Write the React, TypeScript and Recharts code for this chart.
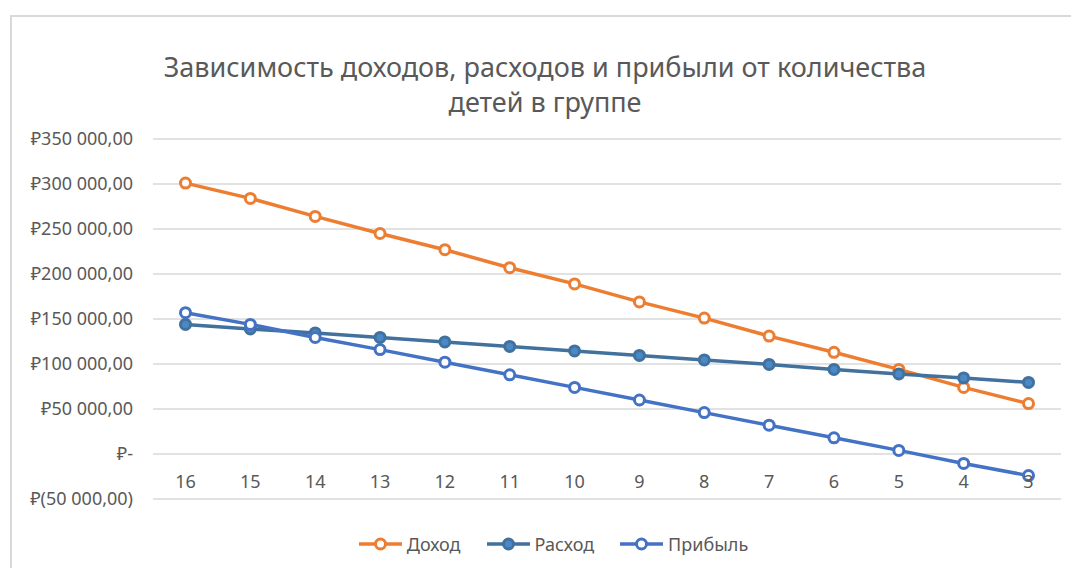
import { LineChart, Line, XAxis, YAxis, CartesianGrid, Legend } from 'recharts'

const groupSizes = ['16', '15', '14', '13', '12', '11', '10', '9', '8', '7', '6', '5', '4', '3']
const income = [301000, 284000, 264000, 245000, 227000, 207000, 189000, 169000, 151000, 131000, 113000, 94000, 74000, 56000]
const expense = [144000, 139000, 134500, 129500, 124500, 119500, 114500, 109500, 104500, 99500, 94000, 89000, 84500, 79500]
const profit = [157000, 144000, 129500, 116000, 102000, 88000, 74000, 60000, 46000, 32000, 18000, 4000, -10500, -24000]
const yTicks = [-50000, 0, 50000, 100000, 150000, 200000, 250000, 300000, 350000]

const seriesNames = ['Доход', 'Расход', 'Прибыль']

const chartData = groupSizes.map((g, i) => ({
  group: g,
  Доход: income[i],
  Расход: expense[i],
  Прибыль: profit[i],
}))

const FONT = '"Noto Sans", "DejaVu Sans", sans-serif'
const TEXT = '#595959'

const lineStyles: Record<string, { stroke: string; dotFill: string }> = {
  Доход: { stroke: '#ED7D31', dotFill: '#FFFFFF' },
  Расход: { stroke: '#41719C', dotFill: '#4A89C8' },
  Прибыль: { stroke: '#4472C4', dotFill: '#FFFFFF' },
}

// 350 000,00 style with the ruble sign in front, negatives in brackets
const fmtRub = (v: number) => {
  if (v === 0) return '₽-'
  const whole = Math.abs(v)
    .toFixed(0)
    .replace(/\B(?=(\d{3})+(?!\d))/g, '\u00A0')
  const s = `${whole},00`
  return v < 0 ? `₽(${s})` : `₽${s}`
}

const XTick = ({ x, y, payload }: any) => (
  <text x={x} y={y - 18} textAnchor="middle" dominantBaseline="central" fill={TEXT} fontSize={18} fontFamily={FONT}>
    {payload.value}
  </text>
)

const LegendContent = () => (
  <div style={{ display: 'flex', justifyContent: 'center', gap: 26, fontFamily: FONT, fontSize: 18, color: TEXT }}>
    {seriesNames.map((name) => (
      <div key={name} style={{ display: 'flex', alignItems: 'center' }}>
        <svg width={43} height={14}>
          <line x1={0} x2={43} y1={7} y2={7} stroke={lineStyles[name].stroke} strokeWidth={3.5} />
          <circle cx={21.5} cy={7} r={5} fill={lineStyles[name].dotFill} stroke={lineStyles[name].stroke} strokeWidth={3} />
        </svg>
        <span style={{ marginLeft: 5 }}>{name}</span>
      </div>
    ))}
  </div>
)

export default function App() {
  return (
    <div style={{ position: 'absolute', left: 0, top: 0, width: 1071, height: 568, background: '#fff', overflow: 'hidden' }}>
      <div
        style={{
          position: 'absolute',
          left: 10,
          top: 15,
          width: 1070,
          height: 560,
          borderLeft: '2px solid #d9d9d9',
          borderTop: '2px solid #d9d9d9',
        }}
      />
      <div
        style={{
          position: 'absolute',
          left: 0,
          width: 1090,
          top: 49,
          textAlign: 'center',
          fontFamily: FONT,
          fontSize: 27,
          lineHeight: '35px',
          color: TEXT,
        }}
      >
        Зависимость доходов, расходов и прибыли от количества
        <br />
        детей в группе
      </div>
      <div style={{ position: 'absolute', left: 0, top: 0 }}>
        <LineChart width={1071} height={568} data={chartData} margin={{ top: 139, right: 10, bottom: 39, left: 0 }}>
          <CartesianGrid stroke="#d9d9d9" strokeWidth={1.5} vertical={false} />
          <XAxis
            dataKey="group"
            axisLine={false}
            tickLine={false}
            tickSize={0}
            tickMargin={0}
            height={30}
            interval={0}
            padding={{ left: 32.5, right: 32.5 }}
            tick={<XTick />}
          />
          <YAxis
            domain={[-50000, 350000]}
            ticks={yTicks}
            interval={0}
            width={153}
            axisLine={false}
            tickLine={false}
            tickSize={0}
            tickMargin={20}
            tickFormatter={fmtRub}
            tick={{ fill: TEXT, fontSize: 18, fontFamily: FONT }}
          />
          <Legend
            verticalAlign="middle"
            align="center"
            layout="horizontal"
            content={<LegendContent />}
            wrapperStyle={{ top: 532, left: 36, width: 1035 }}
          />
          {seriesNames.map((name) => (
            <Line
              key={name}
              type="linear"
              dataKey={name}
              stroke={lineStyles[name].stroke}
              strokeWidth={3.5}
              dot={{ r: 5, fill: lineStyles[name].dotFill, stroke: lineStyles[name].stroke, strokeWidth: 3 }}
              activeDot={false}
              isAnimationActive={false}
            />
          ))}
        </LineChart>
      </div>
    </div>
  )
}
